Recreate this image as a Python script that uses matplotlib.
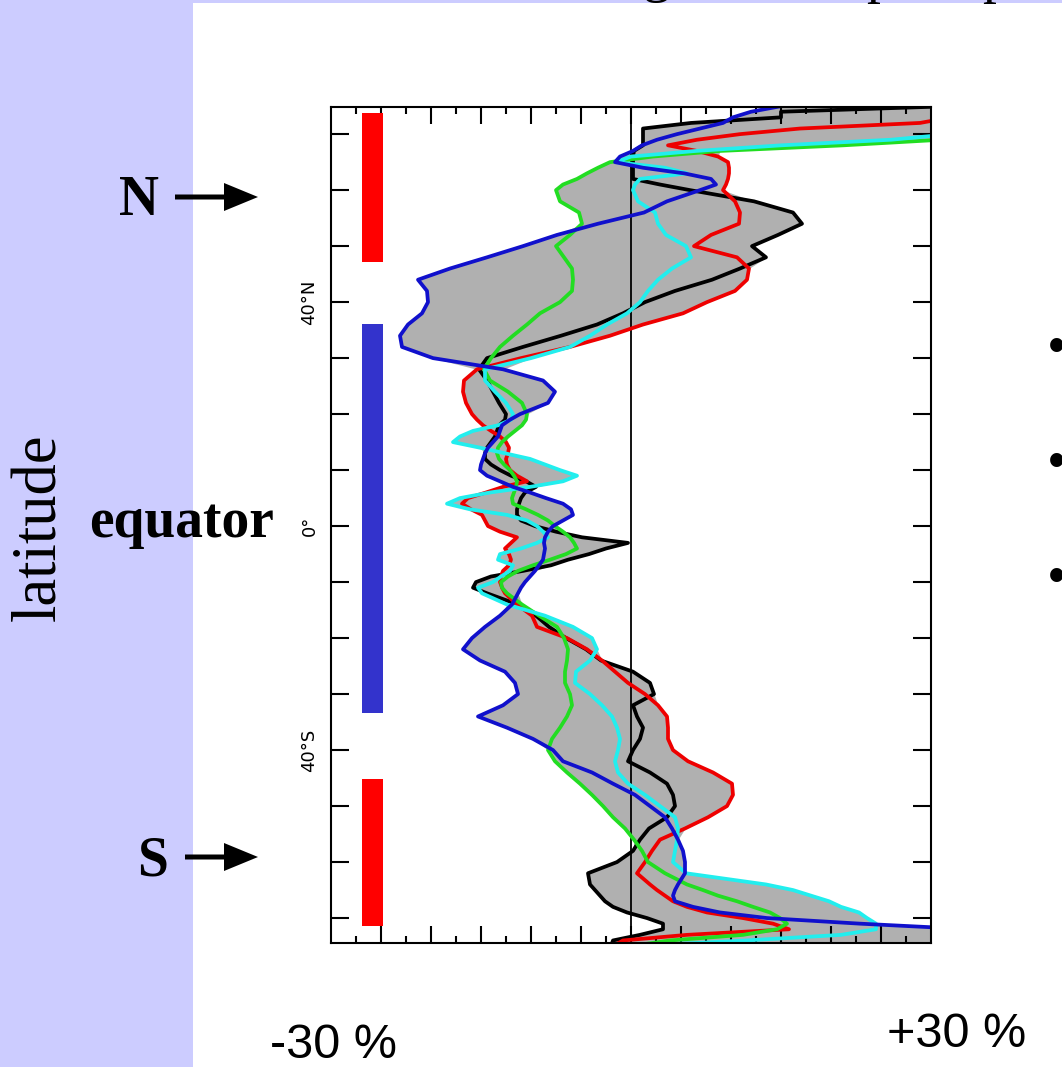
import numpy as np
import matplotlib
matplotlib.use("Agg")
import matplotlib.pyplot as plt
from matplotlib.patches import Rectangle, FancyArrow

# ---------------- data (percent change vs latitude) ----------------
lat = [75, 74, 73, 72, 71, 70, 69, 68, 67, 66, 65, 64, 63, 62, 61,
       60, 58, 56, 54, 52, 50, 48, 46, 44, 42, 40, 38, 36, 34, 32, 30, 28, 26, 24, 22, 20,
       19, 18, 17, 16, 15, 14, 13, 12, 11, 10, 9, 8, 7, 6, 5, 4, 3, 2, 1, 0,
       -1, -2, -3, -4, -5, -6, -7, -8, -9, -10, -11, -12,
       -14, -16, -18, -20, -22, -24, -26, -28, -30, -32, -34, -36, -38, -40, -42, -44, -46,
       -48, -50, -52, -54, -56, -58, -60, -62, -64,
       -65, -66, -67, -68, -69, -70, -71, -72, -73, -74, -75]

black = [32, 15, 15, 6, 1.2, 1.2, 1.2, 1.2, 0.3, 0.2, 0.2, 0.2, 0.2, 0.2, 2.9,
         5.9, 12.3, 16.2, 17.1, 14.7, 12.1, 13.5, 10.9, 8.1, 4.4, 1.4, -0.8, -3.4, -7.0, -10.8, -14.4,
         -15.2, -14.4, -13.8, -13.2, -12.5,
         -12.6, -13.2, -13.4, -13.6, -14.0, -14.4, -14.6, -14.6, -14.0, -13.1, -12.0, -10.5, -9.5, -10.6,
         -11.0, -11.2, -11.4, -11.4, -11.0, -9.6,
         -7.5, -4.9, -0.3, -2.5, -4.2, -6.3, -8.0, -10.8, -14.0, -15.5, -15.8, -14.4,
         -11.3, -9.5, -8.2, -6.5, -4.5, -3.0, 0.2, 1.9, 2.3, 0.2, 0.6, 1.2, 0.9, 0.2, -0.3, 1.9, 3.6,
         4.2, 4.4, 3.6, 1.8, 0.9, 0.2, -1.4, -4.3, -4.1,
         -3.6, -3.1, -2.6, -1.8, -0.4, 1.6, 3.2, 3.2, 0.9, -1.8, -2.0]

red = [32, 32, 32, 28.9, 16.9, 10.9, 6.6, 3.7, 6.6, 8.7, 9.7, 9.8, 9.8, 9.7, 9.5,
       9.2, 10.4, 10.9, 10.8, 8.0, 6.3, 10.6, 11.8, 11.6, 10.4, 7.6, 5.2, 1.2, -2.1, -6.1, -11.0,
       -15.4, -16.7, -16.8, -16.5, -15.9,
       -15.4, -14.8, -14.0, -13.1, -12.5, -12.2, -12.3, -12.5, -12.4, -12.1,
       -11.4, -10.4, -12.8, -14.5, -16.3, -16.9, -16.0, -14.9, -14.6, -14.3,
       -13.1, -11.4, -12.0, -12.6, -12.2, -12.0, -12.2, -12.8, -13.0, -13.1, -12.9, -12.6,
       -11.4, -9.9, -9.4, -6.4, -4.4, -2.9, -1.6, -0.3, 1.4, 2.7, 3.6, 3.7, 3.7, 4.2, 5.7, 8.2, 10.1,
       10.2, 9.6, 7.7, 5.4, 2.9, 2.1, 1.4, 0.6, 1.9,
       2.6, 3.4, 4.2, 5.6, 7.6, 11.2, 14.2, 15.8, 5.6, -0.8, -1.8]

green = [34, 34, 34, 34, 34, 33, 31, 21.2, 8.9, 2.2, -2.1, -3.3, -4.4, -5.4, -6.8,
         -7.5, -7.1, -5.2, -4.9, -6.1, -7.5, -6.7, -5.9, -5.8, -5.9, -7.1, -9.1, -10.4, -11.8, -13.1, -14.0,
         -14.7, -14.1, -12.3, -10.9, -10.4,
         -10.5, -10.9, -11.6, -12.3, -12.9, -13.3, -13.4, -13.2, -12.7, -12.1,
         -11.7, -11.4, -11.5, -11.7, -11.9, -11.8, -10.5, -9.3, -8.3, -7.6,
         -6.8, -6.1, -5.7, -5.4, -6.5, -8.1, -9.8, -11.3, -12.3, -13.0, -12.9, -12.4,
         -10.9, -9.2, -7.4, -6.7, -6.3, -6.4, -6.6, -6.6, -6.1, -5.9, -6.4, -7.1, -7.9, -8.3, -7.6, -6.4, -5.1,
         -3.9, -2.8, -1.8, -0.6, 0.3, 1.1, 1.7, 3.4, 5.6,
         7.2, 8.7, 10.6, 12.2, 13.9, 14.9, 15.6, 14.6, 11.2, 3.9, 0.0]

cyan = [34, 34, 34, 34, 34, 32, 26, 15.0, 6.5, 0.0, -1.5, 3.4, 5.6, 0.9, 0.4,
        0.2, 0.7, 2.4, 2.7, 3.5, 5.5, 6.0, 4.1, 2.7, 1.7, 0.9, -0.4, -2.4, -4.1, -6.1, -10.0,
        -14.6, -14.6, -13.6, -12.5, -11.8,
        -12.0, -13.3, -15.8, -17.1, -17.8, -15.1, -12.6, -10.1, -8.6, -7.1,
        -5.4, -6.8, -10.1, -14.1, -17.1, -18.4, -16.1, -12.4, -10.4, -9.4,
        -8.8, -8.3, -9.4, -11.0, -13.1, -13.3, -11.8, -12.1, -13.0, -13.8, -15.3, -14.9,
        -12.4, -8.6, -5.8, -3.9, -3.4, -4.1, -5.5, -5.6, -4.1, -2.9, -1.9, -1.4, -1.1, -1.3, -1.6, -1.3, -0.3,
        1.4, 2.9, 4.4, 4.7, 4.6, 4.4, 4.2, 5.5, 13.5,
        16.2, 18.0, 19.8, 21.0, 22.8, 23.6, 24.5, 24.5, 21.0, 11.5, 0.2]

blue = [15.0, 12.0, 10.2, 9.2, 6.9, 4.6, 2.6, 1.1, 0.2, -1.1, -1.6, 1.2, 5.3, 8.0, 8.5,
        6.9, 3.6, 1.3, -3.3, -7.4, -10.8, -14.4, -18.1, -21.3, -20.4, -20.3, -20.9, -22.3, -23.1, -22.9, -19.8,
        -12.8, -8.8, -7.6, -8.3, -11.1,
        -12.1, -12.9, -13.1, -13.3, -13.8, -14.3, -14.6, -14.8, -15.0, -15.1,
        -14.4, -13.1, -11.8, -10.1, -8.5, -6.8, -6.0, -5.8, -6.8, -7.8,
        -8.3, -8.6, -8.7, -8.6, -8.7, -8.8, -9.2, -9.6, -10.1, -10.6, -11.0, -11.3,
        -11.9, -13.1, -14.6, -15.9, -16.8, -15.1, -12.6, -11.6, -11.3, -12.8, -15.3, -12.4, -9.8, -7.8, -6.8, -3.9, -1.8,
        0.4, 1.9, 3.4, 4.1, 4.7, 5.2, 5.4, 5.4, 4.7,
        4.4, 4.2, 4.4, 6.2, 8.9, 13.6, 22.9, 34, 34, 34, 34]

series_colors = ["black", "#EE0000", "#22DD22", "#22EEEE", "#1010CC"]

# latitude bands marked by colored bars
band_lo = [47.2, -33.4, -71.4]
band_hi = [73.7, 36.1, -45.1]
band_colors = ["#FF0000", "#3333CC", "#FF0000"]

ytick_vals = [-70, -60, -50, -40, -30, -20, -10, 0, 10, 20, 30, 40, 50, 60, 70]
ytick_labels = ["", "", "", "40°S", "", "", "", "0°", "", "", "", "40°N", "", "", ""]

# ---------------- figure ----------------
W, H = 1062, 1067
fig = plt.figure(figsize=(W / 100, H / 100), dpi=100)
fig.patch.set_facecolor("white")

bg = fig.add_axes([0, 0, 1, 1], zorder=0)
bg.set_xlim(0, W)
bg.set_ylim(H, 0)
bg.axis("off")
bg.add_patch(Rectangle((0, 0), 193, H, color="#CCCCFF", lw=0))
bg.add_patch(Rectangle((0, 0), W, 3, color="#CCCCFF", lw=0))

top_px, bot_px, left_px, right_px = 106.7, 942.7, 331, 931
ax = fig.add_axes([left_px / W, 1 - bot_px / H, (right_px - left_px) / W, (bot_px - top_px) / H], zorder=1)
ax.set_facecolor("white")

lat_a = np.array(lat)
all_s = np.vstack([black, red, green, cyan, blue])
ax.fill_betweenx(lat_a, all_s.min(axis=0), all_s.max(axis=0), color="#B0B0B0", lw=0, zorder=1)
ax.axvline(0, color="black", lw=1.3, zorder=1.5)
for s, c in zip([black, red, green, cyan, blue], series_colors):
    ax.plot(s, lat_a, color=c, lw=2.7, zorder=2, solid_joinstyle="round")

for lo, hi, c in zip(band_lo, band_hi, band_colors):
    ax.fill_between([-26.9, -24.8], lo, hi, color=c, lw=0, zorder=2)

ax.set_xlim(-30, 30)
ax.set_ylim(-74.4, 74.9)
ax.set_xticks(np.arange(-25, 26, 5))
ax.set_xticks(np.arange(-27.5, 30, 5), minor=True)
ax.tick_params(axis="x", which="major", direction="in", top=True, bottom=True,
               labelbottom=False, length=12, width=1.5)
ax.tick_params(axis="x", which="minor", direction="in", top=True, bottom=True, length=5, width=1.5)
ax.set_yticks(ytick_vals)
ax.set_yticklabels(ytick_labels, rotation=90, va="center", fontsize=13, family="DejaVu Sans")
ax.tick_params(axis="y", direction="in", left=True, right=True, length=13, width=1.5, pad=9)
for sp in ax.spines.values():
    sp.set_linewidth(1.5)

# ---------------- overlay annotations (slide text) ----------------
ov = fig.add_axes([0, 0, 1, 1], zorder=3)
ov.set_xlim(0, W)
ov.set_ylim(H, 0)
ov.axis("off")
ov.patch.set_alpha(0)

serif = "Liberation Serif"
ov.text(139, 215, "N", fontsize=40, fontweight="bold", family=serif, ha="center", va="baseline")
ov.text(152, 876, "S", fontsize=40, fontweight="bold", family=serif, ha="center", va="baseline")
ov.text(89, 537, "equator", fontsize=40, fontweight="bold", family=serif, ha="left", va="baseline")
ov.text(40, 527, "latitude", fontsize=45, family=serif, rotation=90, ha="center", va="center")
ov.add_patch(FancyArrow(175, 197, 83, 0, width=5, head_width=28, head_length=34,
                        length_includes_head=True, color="black", lw=0))
ov.add_patch(FancyArrow(185, 857, 73, 0, width=5, head_width=28, head_length=34,
                        length_includes_head=True, color="black", lw=0))

ov.text(270, 1058, "-30 %", fontsize=35, family="Liberation Sans", ha="left", va="baseline")
ov.text(887, 1047, "+30 %", fontsize=35, family="Liberation Sans", ha="left", va="baseline")

for yb in [350, 465, 580]:
    ov.text(1047, yb, "•", fontsize=40, family=serif, ha="left", va="center")

# descenders of the cropped slide title
ov.text(643, -9, "g", fontsize=40, family=serif, ha="left", va="baseline")
ov.text(866, -8, "p", fontsize=40, family=serif, ha="left", va="baseline")
ov.text(982, -8, "p", fontsize=40, family=serif, ha="left", va="baseline")

fig.savefig("out.png", dpi=100)
